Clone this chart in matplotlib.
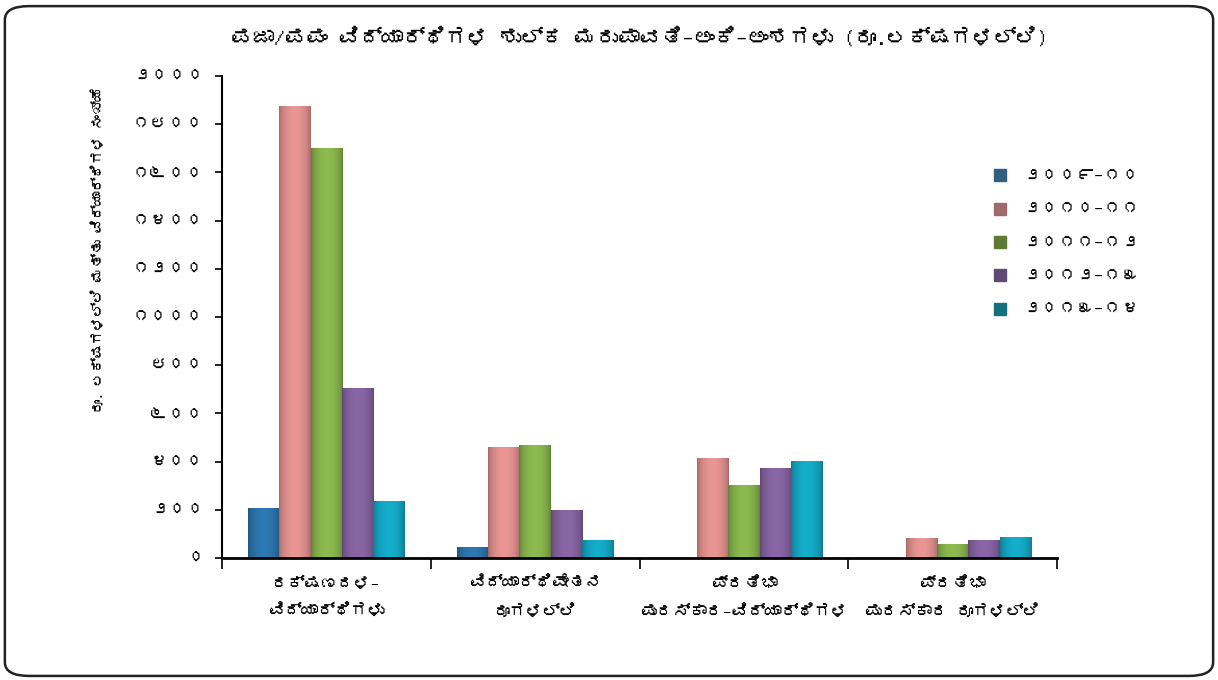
import numpy as np
import matplotlib
matplotlib.use("Agg")
import matplotlib.pyplot as plt
from matplotlib import font_manager
from matplotlib.ft2font import FT2Font
from matplotlib.patches import FancyBboxPatch
from matplotlib.colors import to_rgb

# --- find a font that has Kannada glyphs, if any ---
kn_font = None
for f in font_manager.fontManager.ttflist:
    try:
        if 0x0C95 in FT2Font(f.fname).get_charmap():
            kn_font = f.name
            break
    except Exception:
        pass
families = ([kn_font] if kn_font else []) + ['DejaVu Sans']
plt.rcParams['font.family'] = families

# --- data ---
categories = ['ರಕ್ಷಣದಳ–\nವಿದ್ಯಾರ್ಥಿಗಳು', 'ವಿದ್ಯಾರ್ಥಿವೇತನ\nರೂಗಳಲ್ಲಿ',
              'ಪ್ರತಿಭಾ\nಪುರಸ್ಕಾರ–ವಿದ್ಯಾರ್ಥಿಗಳ', 'ಪ್ರತಿಭಾ\nಪುರಸ್ಕಾರ ರೂಗಳಲ್ಲಿ']
years = ['೨೦೦೯–೧೦', '೨೦೧೦–೧೧', '೨೦೧೧–೧೨', '೨೦೧೨–೧೩', '೨೦೧೩–೧೪']
v_2009_10 = [207, 46, 0, 0]
v_2010_11 = [1875, 461, 415, 83]
v_2011_12 = [1701, 469, 303, 58]
v_2012_13 = [705, 199, 373, 75]
v_2013_14 = [237, 75, 402, 87]
series = [v_2009_10, v_2010_11, v_2011_12, v_2012_13, v_2013_14]
yticks = [0, 200, 400, 600, 800, 1000, 1200, 1400, 1600, 1800, 2000]
ytick_labels = ['೦', '೨೦೦', '೪೦೦', '೬೦೦', '೮೦೦', '೧೦೦೦', '೧೨೦೦', '೧೪೦೦', '೧೬೦೦', '೧೮೦೦', '೨೦೦೦']

bar_colors = ['#2d79b3', '#ea9694', '#8dbb4f', '#8a66a6', '#14aecb']
legend_colors = ['#2e5f80', '#9e6a6a', '#5e7a33', '#5e4a72', '#176f7e']

fig = plt.figure(figsize=(12.18, 6.80), dpi=100)
ax = fig.add_axes([222/1218, 1-558/680, (1057-222)/1218, (558-76)/680])

# rounded frame around the whole picture
frame = FancyBboxPatch((0.004, 0.006), 0.992, 0.985, boxstyle="round,pad=0,rounding_size=0.02",
                       transform=fig.transFigure, fill=False, edgecolor='#222222', linewidth=1.8)
fig.patches.append(frame)

x = np.arange(len(categories))
w = 0.15
t = np.linspace(0, 1, 40)
shade = 0.70 + 0.30 * np.sin(np.pi * t) ** 0.6   # darker edges, light middle
for i, vals in enumerate(series):
    bars = ax.bar(x + (i - 2) * w, vals, width=w, color=bar_colors[i],
                  edgecolor='none', label=years[i])
    base = np.array(to_rgb(bar_colors[i]))
    grad = (shade[None, :, None] * base[None, None, :]).clip(0, 1)
    for b in bars:
        if b.get_height() <= 0:
            continue
        x0, y0 = b.get_x(), b.get_y()
        im = ax.imshow(grad, extent=(x0, x0 + b.get_width(), y0, y0 + b.get_height()),
                       aspect='auto', zorder=2, interpolation='bilinear')
        im.set_clip_path(b)

ax.set_xlim(-0.5, 3.5)
ax.set_ylim(0, 2000)
ax.set_yticks(yticks)
ax.set_yticklabels(ytick_labels, fontsize=13)
ax.set_xticks(x)
ax.set_xticklabels(categories, fontsize=12, fontweight='bold', linespacing=2.0)
ax.tick_params(axis='x', length=0, pad=14)
ax.set_xticks(np.arange(-0.5, 4, 1), minor=True)
ax.tick_params(axis='x', which='minor', length=8, width=1.2)
ax.tick_params(axis='y', length=5, width=1.2, direction='out', pad=8)
for s in ['top', 'right']:
    ax.spines[s].set_visible(False)
ax.spines['left'].set_linewidth(1.5)
ax.spines['bottom'].set_linewidth(2)

ax.set_ylabel('ರೂ. ಲಕ್ಷಗಳಲ್ಲಿ ಮತ್ತು ವಿದ್ಯಾರ್ಥಿಗಳ ಸಂಖ್ಯೆ', fontsize=10, fontweight='bold')
ax.yaxis.set_label_coords(-0.14, 0.64)

fig.text(0.525, 0.945, 'ಪಜಾ/ಪಪಂ ವಿದ್ಯಾರ್ಥಿಗಳ ಶುಲ್ಕ ಮರುಪಾವತಿ–ಅಂಕಿ–ಅಂಶಗಳು (ರೂ.ಲಕ್ಷಗಳಲ್ಲಿ)',
         ha='center', va='center', fontsize=15.5, fontweight='bold')

handles, labels = ax.get_legend_handles_labels()
leg = ax.legend(handles, labels, loc='upper left', bbox_to_anchor=(0.905, 0.84), frameon=False,
                fontsize=13, handlelength=0.65, handleheight=0.65, labelspacing=1.05,
                handletextpad=0.9)
for patch, c in zip(leg.get_patches(), legend_colors):
    patch.set_facecolor(c)
    patch.set_edgecolor(c)

fig.savefig('out.png', dpi=100)
